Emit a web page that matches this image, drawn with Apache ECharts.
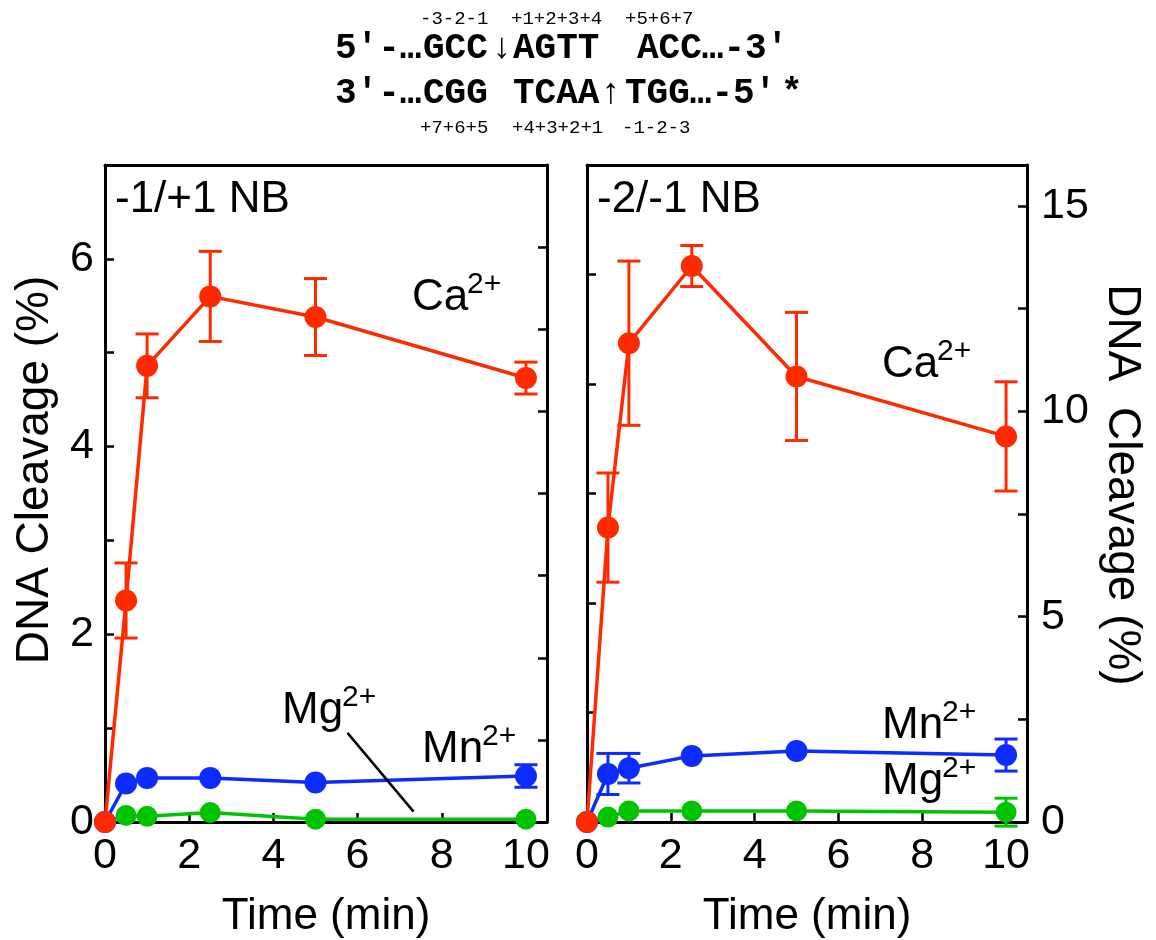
<!DOCTYPE html>
<html><head><meta charset="utf-8">
<script src="https://cdn.jsdelivr.net/npm/echarts@6/dist/echarts.min.js"></script>
<style>html,body{margin:0;padding:0;background:#fff}#c{width:1156px;height:940px}</style>
</head><body><div id="c"></div>
<script>
// ---- data ----
const times = [0, 0.5, 1, 2.5, 5, 10];
const xTicks = [0, 2, 4, 6, 8, 10];
// left panel (-1/+1 NB)
const caLeft    = [0, 2.36, 4.86, 5.60, 5.38, 4.73];
const caLeftErr = [0, 0.40, 0.34, 0.48, 0.41, 0.17];
const mnLeft    = [0, 0.41, 0.47, 0.47, 0.42, 0.49];
const mnLeftErr = [0, 0, 0, 0, 0, 0.12];
const mgLeft    = [0, 0.07, 0.06, 0.10, 0.03, 0.03];
const mgLeftErr = [0, 0, 0, 0, 0, 0];
// right panel (-2/-1 NB)
const caRight    = [0, 7.17, 11.66, 13.54, 10.85, 9.39];
const caRightErr = [0, 1.33, 2.00, 0.50, 1.56, 1.33];
const mnRight    = [0, 1.17, 1.31, 1.61, 1.73, 1.63];
const mnRightErr = [0, 0.50, 0.36, 0, 0, 0.39];
const mgRight    = [0, 0.12, 0.27, 0.27, 0.27, 0.24];
const mgRightErr = [0, 0, 0, 0, 0, 0.34];
const mgPointer  = [[5.76, 0.95], [7.33, 0.11]];

const RED = '#ff2a00', BLUE = '#0c2cff', GREEN = '#00c400';
const SANS = '"Liberation Sans", Arial, sans-serif';
const MONO = '"Liberation Mono", "Courier New", monospace';

const chart = echarts.init(document.getElementById('c'), null, {renderer: 'canvas'});

function pts(vals) { return times.map((t, i) => [t, vals[i]]); }
function errPts(vals, errs) { return times.map((t, i) => [t, vals[i], errs[i]]).filter(d => d[2] > 0); }

function lineSeries(vals, color, xi, yi, size) {
  return {type: 'line', xAxisIndex: xi, yAxisIndex: yi, data: pts(vals), clip: false,
    symbol: 'circle', symbolSize: size, itemStyle: {color: color},
    lineStyle: {color: color, width: 3.5}, z: 3, silent: true};
}
function errSeries(vals, errs, color, xi, yi) {
  return {type: 'custom', xAxisIndex: xi, yAxisIndex: yi, data: errPts(vals, errs), clip: false, z: 2, silent: true,
    renderItem: function (params, api) {
      const x = api.value(0), y = api.value(1), e = api.value(2);
      const top = api.coord([x, y + e]), bot = api.coord([x, y - e]);
      const hw = 11.5;
      const st = {stroke: color, lineWidth: 3};
      return {type: 'group', children: [
        {type: 'line', shape: {x1: top[0], y1: top[1], x2: bot[0], y2: bot[1]}, style: st},
        {type: 'line', shape: {x1: top[0] - hw, y1: top[1], x2: top[0] + hw, y2: top[1]}, style: st},
        {type: 'line', shape: {x1: bot[0] - hw, y1: bot[1], x2: bot[0] + hw, y2: bot[1]}, style: st}
      ]};
    }};
}

const axLine = {show: true, onZero: false, lineStyle: {color: '#000', width: 3}};
const tick = {show: true, inside: true, length: 9, lineStyle: {color: '#000', width: 2.5}};
const lab = {color: '#000', fontSize: 43, fontFamily: SANS};

function xBottom(gi) {
  return {gridIndex: gi, type: 'value', position: 'bottom', min: 0, max: 10.5, interval: 2,
    axisLine: axLine, axisTick: tick, splitLine: {show: false},
    axisLabel: Object.assign({margin: 13, formatter: v => (xTicks.indexOf(v) >= 0 ? String(v) : '')}, lab)};
}
function xTop(gi) {
  return {gridIndex: gi, type: 'value', position: 'top', min: 0, max: 10.5,
    axisLine: axLine, axisTick: {show: false}, axisLabel: {show: false}, splitLine: {show: false}};
}

const option = {
  animation: false,
  backgroundColor: '#fff',
  grid: [
    {left: 105, top: 165, width: 442, height: 657},
    {left: 587, top: 165, width: 440, height: 657}
  ],
  xAxis: [xBottom(0), xTop(0), xBottom(1), xTop(1)],
  yAxis: [
    {gridIndex: 0, type: 'value', position: 'left', min: 0, max: 7, interval: 1,
      axisLine: axLine, axisTick: tick, splitLine: {show: false},
      axisLabel: Object.assign({margin: 11, formatter: v => (v % 2 === 0 ? String(v) : '')}, lab)},
    {gridIndex: 0, type: 'value', position: 'right', min: 0, max: 8, interval: 1,
      axisLine: axLine, axisTick: tick, splitLine: {show: false}, axisLabel: {show: false}},
    {gridIndex: 1, type: 'value', position: 'left', min: 0, max: 6, interval: 1,
      axisLine: axLine, axisTick: tick, splitLine: {show: false}, axisLabel: {show: false}},
    {gridIndex: 1, type: 'value', position: 'right', min: 0, max: 16, interval: 2.5,
      axisLine: axLine, axisTick: tick, splitLine: {show: false},
      axisLabel: Object.assign({margin: 14, formatter: v => (v % 5 === 0 ? String(v) : '')}, lab)}
  ],
  series: [
    errSeries(mgLeft, mgLeftErr, GREEN, 0, 0),
    errSeries(mnLeft, mnLeftErr, BLUE, 0, 0),
    errSeries(caLeft, caLeftErr, RED, 0, 0),
    lineSeries(mgLeft, GREEN, 0, 0, 21),
    lineSeries(mnLeft, BLUE, 0, 0, 22),
    lineSeries(caLeft, RED, 0, 0, 22),
    {type: 'line', xAxisIndex: 0, yAxisIndex: 0, data: mgPointer, symbol: 'none', clip: false, silent: true,
      lineStyle: {color: '#000', width: 2.5}, z: 4},
    errSeries(mgRight, mgRightErr, GREEN, 2, 3),
    errSeries(mnRight, mnRightErr, BLUE, 2, 3),
    errSeries(caRight, caRightErr, RED, 2, 3),
    lineSeries(mgRight, GREEN, 2, 3, 21),
    lineSeries(mnRight, BLUE, 2, 3, 22),
    lineSeries(caRight, RED, 2, 3, 22)
  ],
  graphic: []
};

function txt(s, x, y, size, opts) {
  return Object.assign({type: 'text', x: x, y: y, z: 10, silent: true,
    style: {text: s, fill: '#000', font: (opts && opts.bold ? 'bold ' : '') + size + 'px ' + ((opts && opts.family) || SANS),
      textAlign: (opts && opts.align) || 'left', textVerticalAlign: 'middle'}},
    opts && opts.rotation !== undefined ? {rotation: opts.rotation} : {});
}
function ion(base, x, baseline) {
  const w = base === 'Ca' ? 55 : 60;
  return [txt(base, x, baseline - 15, 44), txt('2+', x + w, baseline - 28, 30)];
}

const g = [];
// sequence header
g.push(txt('-3-2-1', 420, 19, 19, {family: MONO}));
g.push(txt('+1+2+3+4', 511, 19, 19, {family: MONO}));
g.push(txt('+5+6+7', 625, 19, 19, {family: MONO}));
g.push(txt('5\u2032-\u2026', 335, 49, 36, {family: MONO, bold: true}));
g.push(txt('GCC', 423, 49, 36, {family: MONO, bold: true}));
g.push(txt('\u2193', 491, 49, 36, {family: MONO, bold: true}));
g.push(txt('AGTT', 513, 49, 36, {family: MONO, bold: true}));
g.push(txt('ACC\u2026-3\u2032', 637, 49, 36, {family: MONO, bold: true}));
g.push(txt('3\u2032-\u2026', 335, 94, 36, {family: MONO, bold: true}));
g.push(txt('CGG', 423, 94, 36, {family: MONO, bold: true}));
g.push(txt('TCAA', 513, 94, 36, {family: MONO, bold: true}));
g.push(txt('\u2191', 600, 94, 36, {family: MONO, bold: true}));
g.push(txt('TGG\u2026-5\u2032', 625, 94, 36, {family: MONO, bold: true}));
g.push(txt('*', 781, 94, 36, {family: MONO, bold: true}));
g.push(txt('+7+6+5', 420, 128, 19, {family: MONO}));
g.push(txt('+4+3+2+1', 512, 128, 19, {family: MONO}));
g.push(txt('-1-2-3', 622, 128, 19, {family: MONO}));
// panel titles
g.push(txt('-1/+1 NB', 115, 200, 44));
g.push(txt('-2/-1 NB', 597, 200, 44));
// ion labels
g.push(...ion('Ca', 412, 313));
g.push(...ion('Mg', 282, 726));
g.push(...ion('Mn', 422, 765));
g.push(...ion('Ca', 882, 380));
g.push(...ion('Mn', 882, 741));
g.push(...ion('Mg', 882, 797));
// axis titles
g.push(txt('Time (min)', 326, 917, 44, {align: 'center'}));
g.push(txt('Time (min)', 807, 917, 44, {align: 'center'}));
g.push(txt('DNA Cleavage (%)', 35, 470, 46, {align: 'center', rotation: Math.PI / 2}));
g.push(txt('DNA  Cleavage (%)', 1122, 485, 46, {align: 'center', rotation: -Math.PI / 2}));
option.graphic = g;

chart.setOption(option);
</script>
</body></html>
